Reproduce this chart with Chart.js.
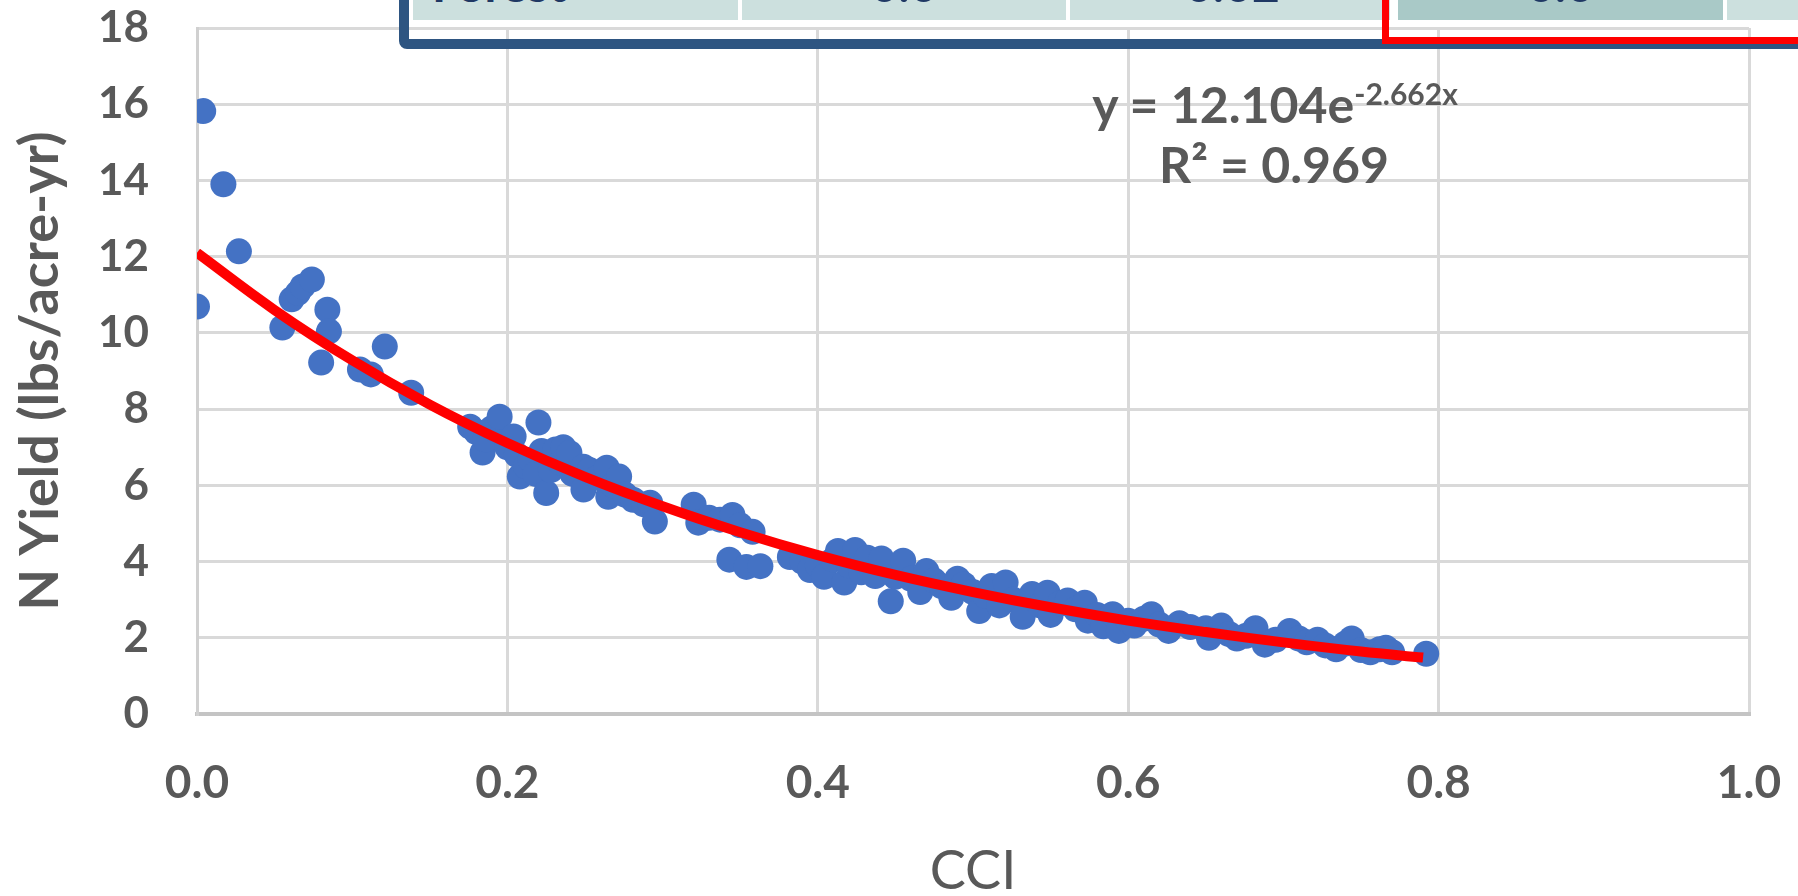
<!DOCTYPE html>
<html><head><meta charset="utf-8">
<script src="https://cdn.jsdelivr.net/npm/chart.js@4.4.1/dist/chart.umd.min.js"></script>
<style>
html,body{margin:0;padding:0;background:#fff;overflow:hidden;}
#wrap{position:relative;width:1798px;height:896px;overflow:hidden;background:#fff;}
canvas{position:absolute;left:0;top:0;}
.cell{position:absolute;top:-60px;height:80px;overflow:hidden;}
.ctext{position:absolute;top:20px;font-family:Lato;font-weight:bold;font-size:48px;line-height:48px;color:#1F3864;white-space:nowrap;}
.frame{position:absolute;box-sizing:border-box;}
.eq{position:absolute;font-family:Lato;font-weight:bold;font-size:50px;line-height:50px;color:#595959;white-space:nowrap;transform:translateX(-50%);}
.eq sup{font-size:30px;line-height:0;vertical-align:18px;}
</style></head>
<body>
<div id="wrap">
<canvas id="c" width="1798" height="896" style="width:1798px;height:896px"></canvas>
<div class="cell" style="left:413px;width:325px;background:#CCE0DE;"><span class="ctext" style="left:19px;">Forest</span></div>
<div class="cell" style="left:742px;width:324px;background:#CCE0DE;"><span class="ctext" style="left:0;width:324px;text-align:center;">0.0</span></div>
<div class="cell" style="left:1070px;width:320px;background:#CCE0DE;"><span class="ctext" style="left:0;width:325px;text-align:center;">0.02</span></div>
<div class="cell" style="left:1398px;width:325px;background:#A9C9C7;"><span class="ctext" style="left:0;width:325px;text-align:center;">0.0</span></div>
<div class="cell" style="left:1727px;width:200px;background:#CCE0DE;"></div>
<div class="frame" style="left:399px;top:-100px;width:1600px;height:149px;border:10px solid #2E5581;border-radius:8px;"></div>
<div class="frame" style="left:1382px;top:-100px;width:600px;height:144px;border:7px solid #FF0000;"></div>
<div class="eq" style="left:1275px;top:79px;">y = 12.104e<sup>-2.662x</sup></div>
<div class="eq" style="left:1274px;top:139px;">R² = 0.969</div>
</div>
<script>
// ---- data ----
const cci = [0.000,0.004,0.017,0.027,0.055,0.061,0.065,0.068,0.074,0.080,0.084,0.085,0.105,0.112,0.121,0.138,
0.176,0.180,0.184,0.186,0.190,0.195,0.200,0.204,0.206,0.208,0.212,0.215,0.218,0.220,0.222,0.225,0.228,0.231,0.234,0.236,0.240,0.242,
0.249,0.249,0.253,0.258,0.264,0.265,0.268,0.272,0.276,0.281,0.288,0.292,0.295,
0.320,0.323,0.330,0.337,0.343,0.345,0.350,0.354,0.358,0.363,
0.382,0.390,0.395,0.400,0.404,0.410,0.413,0.417,0.420,0.424,0.428,0.432,0.437,0.441,0.447,0.450,0.455,0.460,0.466,0.470,0.475,0.480,0.486,0.490,0.494,
0.500,0.504,0.508,0.512,0.517,0.521,0.526,0.532,0.538,0.543,0.548,0.550,0.556,0.561,0.566,0.572,0.574,0.580,0.584,0.590,0.594,
0.600,0.604,0.610,0.615,0.620,0.626,0.633,0.640,0.650,0.652,0.660,0.665,0.670,0.676,0.682,0.688,0.695,
0.704,0.710,0.715,0.722,0.727,0.734,0.740,0.744,0.750,0.756,0.762,0.766,0.770,0.792];
const nYield = [10.69,15.82,13.90,12.14,10.14,10.88,11.05,11.22,11.40,9.22,10.61,10.04,9.04,8.91,9.64,8.43,
7.54,7.40,6.86,7.20,7.50,7.80,7.00,7.28,6.80,6.23,6.50,6.67,6.30,7.65,6.90,5.80,6.40,6.94,6.60,7.00,6.85,6.30,
5.89,6.49,6.40,6.20,6.46,5.70,6.00,6.23,5.75,5.62,5.50,5.54,5.05,
5.49,5.02,5.15,5.10,4.05,5.22,4.95,3.86,4.78,3.88,
4.12,4.00,3.78,3.90,3.60,4.05,4.28,3.45,3.90,4.30,3.72,4.10,3.62,4.08,2.96,3.60,4.02,3.55,3.20,3.75,3.50,3.35,3.05,3.55,3.40,
3.20,2.70,3.10,3.36,2.85,3.45,3.00,2.55,3.15,2.85,3.18,2.60,2.90,2.98,2.75,2.92,2.45,2.60,2.30,2.62,2.18,
2.45,2.32,2.50,2.62,2.35,2.18,2.38,2.28,2.25,2.00,2.32,2.10,1.98,2.05,2.25,1.82,1.95,
2.18,1.98,1.88,1.95,1.80,1.70,1.85,1.98,1.68,1.62,1.70,1.74,1.62,1.58];
// exponential trendline as drawn (y = 12.104e^-2.662x), read at these CCI values
const trendCCI   = [0,0.05,0.1,0.15,0.2,0.25,0.3,0.35,0.4,0.45,0.5,0.55,0.6,0.65,0.7,0.75,0.79];
const trendYield = [12.10,10.60,9.28,8.12,7.11,6.22,5.45,4.77,4.17,3.65,3.20,2.80,2.45,2.15,1.88,1.64,1.48];
const xTickValues = [0,0.2,0.4,0.6,0.8,1.0];
const xTickLabels = ['0.0','0.2','0.4','0.6','0.8','1.0'];
const yTickValues = [0,2,4,6,8,10,12,14,16,18];
const yTickLabels = ['0','2','4','6','8','10','12','14','16','18'];

const points = cci.map((x,i)=>({x:x,y:nYield[i]}));
const trend = trendCCI.map((x,i)=>({x:x,y:trendYield[i]}));

new Chart(document.getElementById('c'), {
  type:'scatter',
  data:{datasets:[
    {type:'line',data:trend,borderColor:'#FF0000',borderWidth:10,pointRadius:0,tension:0.4,fill:false,order:0,borderCapStyle:'butt'},
    {type:'scatter',data:points,backgroundColor:'#4472C4',borderWidth:0,pointRadius:13,pointHoverRadius:13,order:1}
  ]},
  options:{
    responsive:false,animation:false,
    layout:{padding:{top:28,right:49,left:0,bottom:0}},
    plugins:{legend:{display:false},tooltip:{enabled:false}},
    scales:{
      x:{type:'linear',min:0,max:1,
        afterBuildTicks:s=>{s.ticks=xTickValues.map(v=>({value:v}));},
        afterFit:s=>{s.height=182;s.paddingLeft=0;s.paddingRight=0;},
        grid:{color:'#D9D9D9',lineWidth:3,drawTicks:false},
        border:{display:true,color:'#C4C4C4',width:4},
        ticks:{padding:42,color:'#595959',font:{family:'Lato',weight:'bold',size:46},callback:(v,i)=>xTickLabels[i]},
        title:{display:true,text:'CCI',color:'#595959',font:{family:'Lato',weight:'normal',size:54,lineHeight:0.9},padding:{top:0,bottom:0}}
      },
      y:{type:'linear',min:0,max:18,
        afterBuildTicks:s=>{s.ticks=yTickValues.map(v=>({value:v}));},
        afterFit:s=>{s.width=197;s.paddingTop=0;s.paddingBottom=0;},
        grid:{color:'#D9D9D9',lineWidth:3,drawTicks:false},
        border:{display:true,color:'#D0D0D0',width:3},
        ticks:{padding:48,color:'#595959',font:{family:'Lato',weight:'bold',size:44},callback:(v,i)=>yTickLabels[i]},
        title:{display:true,text:'N Yield (lbs/acre-yr)',color:'#595959',font:{family:'Lato',weight:'bold',size:54,lineHeight:1},padding:{top:14,bottom:0}}
      }
    }
  }
});
</script>
</body></html>
